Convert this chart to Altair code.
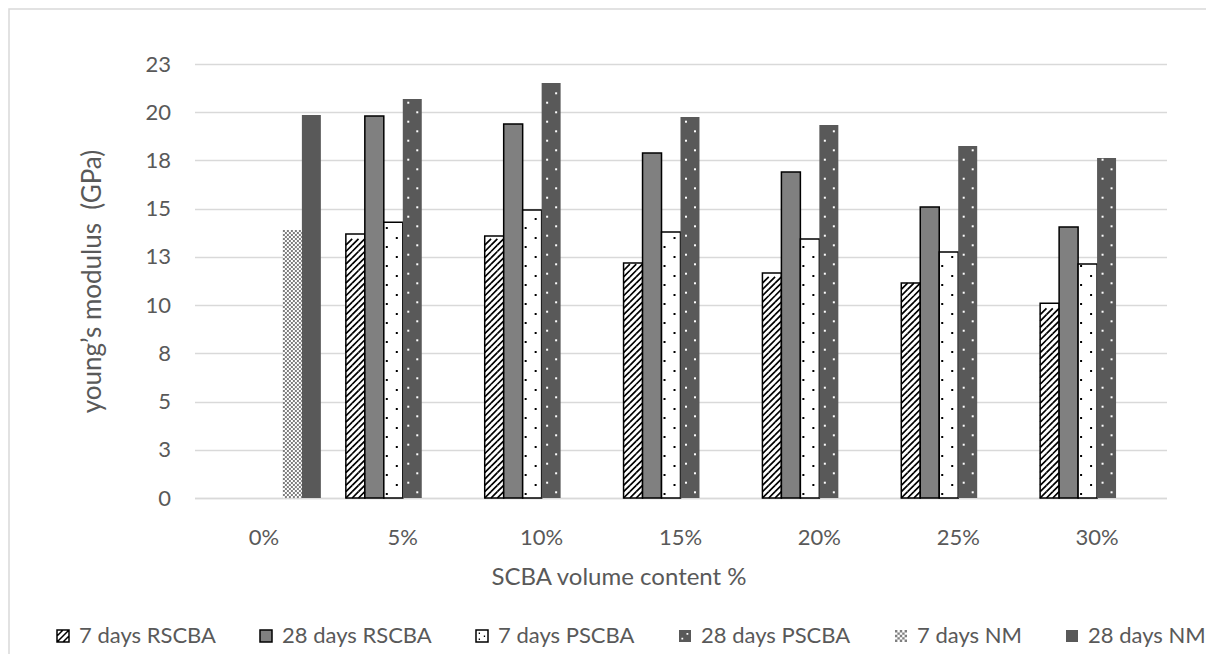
import altair as alt
import pandas as pd

# ---------------- data ----------------
categories = ["0%", "5%", "10%", "15%", "20%", "25%", "30%"]
series_names = ["7 days RSCBA", "28 days RSCBA", "7 days PSCBA",
                "28 days PSCBA", "7 days NM", "28 days NM"]
rscba_7 = [None, 13.69, 13.58, 12.18, 11.66, 11.15, 10.10]
rscba_28 = [None, 19.80, 19.39, 17.88, 16.90, 15.09, 14.05]
pscba_7 = [None, 14.30, 14.93, 13.79, 13.43, 12.75, 12.13]
pscba_28 = [None, 20.68, 21.51, 19.75, 19.34, 18.25, 17.63]
nm_7 = [13.90, None, None, None, None, None, None]
nm_28 = [19.86, None, None, None, None, None, None]
y_ticks = [0, 2.5, 5, 7.5, 10, 12.5, 15, 17.5, 20, 22.5]

rows = []
for name, vals in zip(series_names, [rscba_7, rscba_28, pscba_7, pscba_28, nm_7, nm_28]):
    for c, v in zip(categories, vals):
        if v is not None:
            rows.append({"category": c, "series": name, "value": v})
df = pd.DataFrame(rows)

# ---------------- style ----------------
FONT = "Lato"
GREY_TXT = "#595959"
GRID = "#d9d9d9"
W, H = 972, 434
Y_MAX = 22.5
PX = H / Y_MAX  # pixels per data unit (used for pattern spacing only)

fills = ["#ffffff", "#808080", "#ffffff", "#595959", "#7f7f7f", "#595959"]
strokes = ["#000000", "#000000", "#000000", "transparent", "transparent", "transparent"]

SQ = "M-1,-1H1V1H-1Z"
leg_hatch = SQ + " M-1,0L0,-1 M-1,1L1,-1 M0,1L1,0"
leg_dots_black = SQ + " M-0.55,-0.45h0.22 M0.3,0.05h0.22 M-0.55,0.55h0.22"
leg_dots_white = SQ + " M-0.6,0.3v0.3h0.3v-0.3Z M0.25,-0.5v0.3h0.3v-0.3Z"
cells = []
n = 5
c = 2.0 / n
for i in range(n):
    for j in range(n):
        if (i + j) % 2 == 0:
            x0 = -1 + i * c
            y0 = -1 + j * c
            cells.append(f"M{x0:.2f},{y0:.2f}h{c:.2f}v{c:.2f}h{-c:.2f}Z")
leg_checker = " ".join(cells)
shapes = [leg_hatch, SQ, leg_dots_black, leg_dots_white, leg_checker, SQ]

x_scale = alt.Scale(domain=categories, paddingInner=0.18, paddingOuter=0.09)
xo_scale = alt.Scale(domain=series_names, paddingInner=0, paddingOuter=0)
y_scale = alt.Scale(domain=[0, Y_MAX], nice=False, zero=True)
fill_scale = alt.Scale(domain=series_names, range=fills)
stroke_scale = alt.Scale(domain=series_names, range=strokes)
shape_scale = alt.Scale(domain=series_names, range=shapes)

x_axis = alt.Axis(
    title="SCBA volume content %", labelAngle=0, ticks=False, grid=False,
    domainColor=GRID, domainWidth=1.3,
    labelColor=GREY_TXT, labelFont=FONT, labelFontSize=22, labelPadding=29,
    titleColor=GREY_TXT, titleFont=FONT, titleFontSize=24, titleFontWeight="normal",
    titleX=424, titleY=79, titleBaseline="middle",
)
y_axis = alt.Axis(
    title="young\u2019s modulus \u00a0(GPa)", values=y_ticks,
    labelExpr="'' + round(datum.value)",
    ticks=False, domain=False, grid=True, gridColor=GRID, gridWidth=1.3,
    labelColor=GREY_TXT, labelFont=FONT, labelFontSize=22, labelPadding=24,
    titleColor=GREY_TXT, titleFont=FONT, titleFontSize=26, titleFontWeight="normal",
    titleX=-102, titleY=H / 2, titleBaseline="middle", titleAngle=270,
)
leg = alt.Legend(
    title=None, orient="none", direction="horizontal", columns=6,
    legendX=-142.5, legendY=561, padding=0,
    labelFont=FONT, labelFontSize=22, labelColor=GREY_TXT, labelOffset=5,
    symbolSize=144, symbolStrokeWidth=1.5, columnPadding=39, symbolOpacity=1,
)

x_enc = alt.X("category:N", sort=categories, scale=x_scale, axis=x_axis)
xo = alt.XOffset("series:N", sort=series_names, scale=xo_scale)

# frame around the chart area
frame = alt.Chart(alt.InlineData(values=[{"f": 1}])).mark_rect(
    filled=False, color=GRID, strokeWidth=1.5
).encode(
    x=alt.value(-185.5), x2=alt.value(1300), y=alt.value(-55), y2=alt.value(900)
)

bars = alt.Chart(df).mark_bar(strokeWidth=1.5, opacity=1).encode(
    x=x_enc,
    xOffset=xo,
    y=alt.Y("value:Q", scale=y_scale, axis=y_axis),
    fill=alt.Fill("series:N", scale=fill_scale, legend=leg),
    stroke=alt.Stroke("series:N", scale=stroke_scale, legend=leg),
)


def pattern(series, start_px, step_px, top_px, path, size, color, filled, sw=0.0):
    expr = (f"sequence({start_px / PX:.5f}, datum.value - {top_px / PX:.5f}, "
            f"{step_px / PX:.5f})")
    return alt.Chart(df).transform_filter(
        alt.datum.series == series
    ).transform_calculate(ys=expr).transform_flatten(["ys"]).mark_point(
        shape=path, size=size, filled=filled, color=color, opacity=1, strokeWidth=sw
    ).encode(
        x=x_enc, xOffset=xo,
        y=alt.Y("ys:Q", scale=y_scale, axis=y_axis),
    )


# hatch rows for 7 days RSCBA (three diagonal strokes per row)
u = 3.16
hatch_path = "M-3,1L-1,-1 M-1,1L1,-1 M1,1L3,-1"
hatch = pattern("7 days RSCBA", u, 2 * u, u - 0.3, hatch_path, (2 * u) ** 2,
                "#000000", False, 1.7)


def dot(cx):
    return f"M{cx - 1},-1H{cx + 1}V1H{cx - 1}Z"


p7_left = pattern("7 days PSCBA", 4.0, 19.0, 1.2, dot(-6.5), 4, "#000000", True)
p7_right = pattern("7 days PSCBA", 13.0, 19.0, 1.2, dot(3.5), 4, "#000000", True)
p28_left = pattern("28 days PSCBA", 15.3, 19.0, 1.2, dot(-4), 4, "#ffffff", True)
p28_right = pattern("28 days PSCBA", 5.7, 19.0, 1.2, dot(5), 4, "#ffffff", True)

row_a = " ".join(f"M{x:.1f},-1h2v2h-2Z" for x in [-9.5, -5.5, -1.5, 2.5, 6.5])
row_b = " ".join(f"M{x:.1f},-1h2v2h-2Z" for x in [-7.5, -3.5, 0.5, 4.5]) + " M8.5,-1h1v2h-1Z"
chk_a = pattern("7 days NM", 1.0, 4.0, 1.0, row_a, 4, "#ffffff", True)
chk_b = pattern("7 days NM", 3.0, 4.0, 1.0, row_b, 4, "#ffffff", True)

legend_layer = alt.Chart(df).transform_filter("false").mark_point(
    filled=True, opacity=1, strokeWidth=1.5
).encode(
    x=x_enc, xOffset=xo,
    y=alt.Y("value:Q", scale=y_scale, axis=y_axis),
    fill=alt.Fill("series:N", scale=fill_scale, legend=leg),
    stroke=alt.Stroke("series:N", scale=stroke_scale, legend=leg),
    shape=alt.Shape("series:N", scale=shape_scale, legend=leg),
)

chart = alt.layer(
    frame, bars, hatch, p7_left, p7_right, p28_left, p28_right, chk_a, chk_b, legend_layer
).properties(
    width=W, height=H,
    autosize=alt.AutoSizeParams(type="none"),
    padding={"left": 186.5, "top": 56, "right": 39.5, "bottom": 156},
    background="white",
).configure(font=FONT).configure_view(strokeWidth=0, strokeOpacity=0)

chart.save("out.html", embed_options={"renderer": "svg", "actions": False})
